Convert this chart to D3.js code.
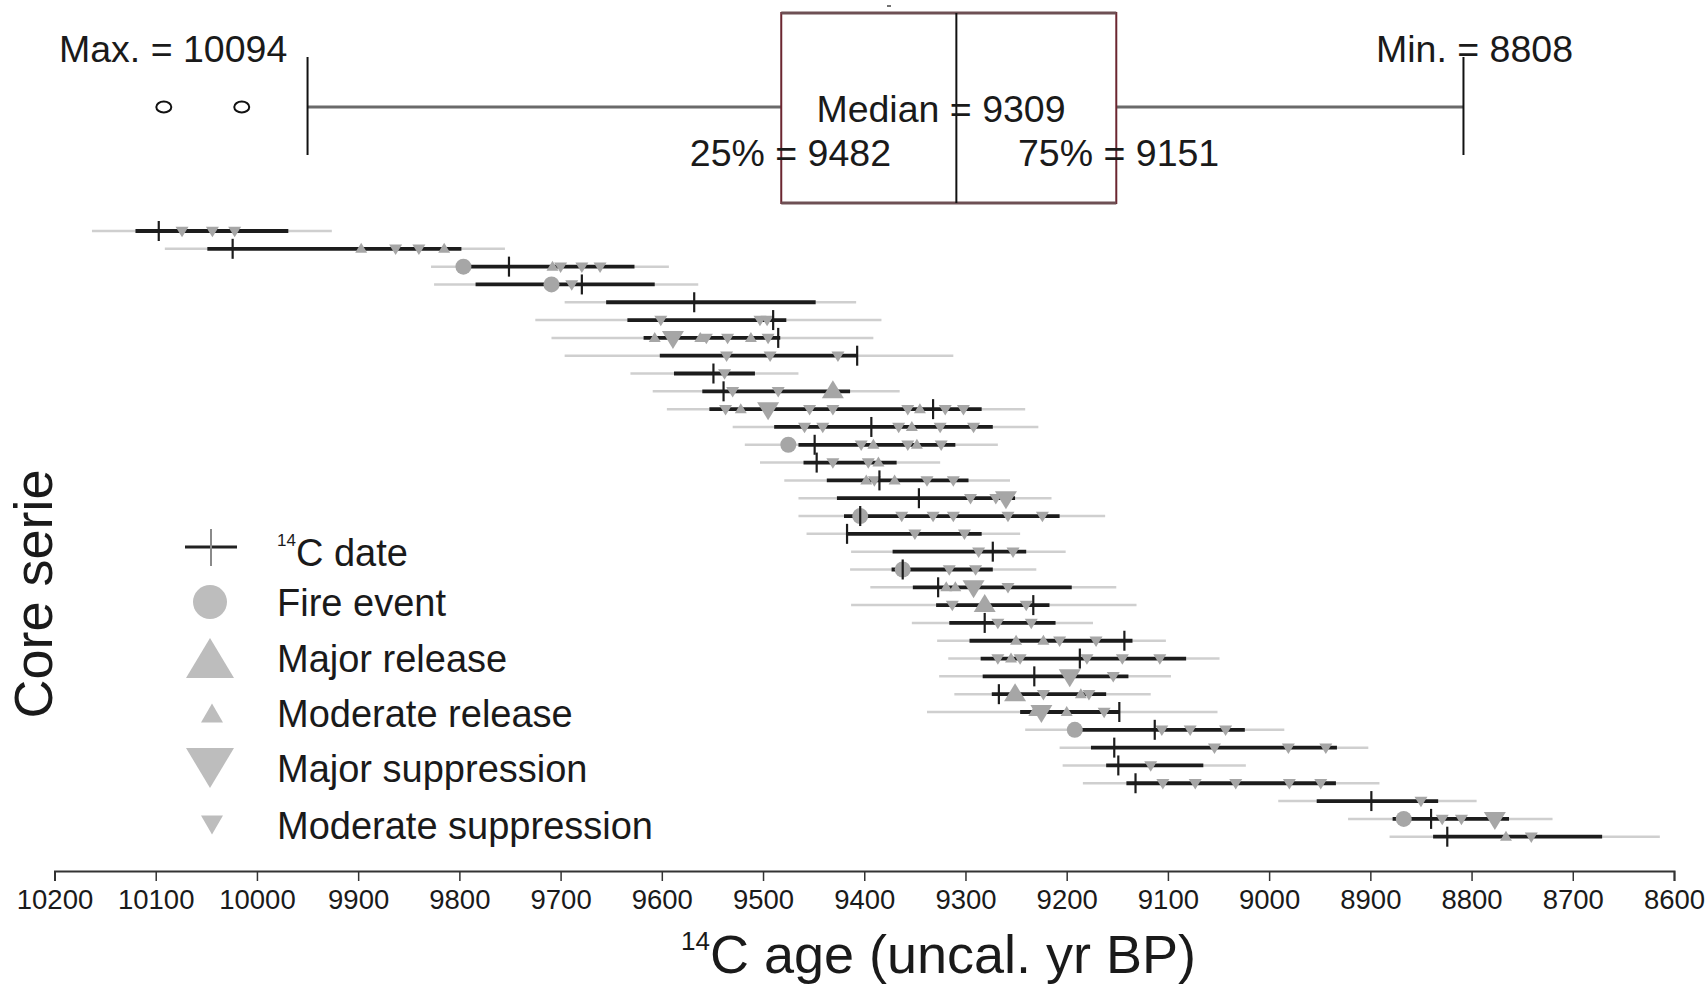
<!DOCTYPE html>
<html><head><meta charset="utf-8">
<script src="https://cdn.jsdelivr.net/npm/d3@7"></script>
<style>
body{margin:0;background:#fff}
svg{display:block}
text{font-family:"Liberation Sans", Arial, Helvetica, sans-serif; fill:#1a1a1a}
</style>
</head><body>
<svg id="c" width="1708" height="1004"></svg>
<script>
// ---------- DATA ----------
const coreSeries = [1,2,3,4,5,6,7,8,9,10,11,12,13,14,15,16,17,18,19,20,21,22,23,24,25,26,27,28,29,30,31,32,33,34,35];
const twoSigmaOld   = [10163,10091,9828,9825,9696,9725,9709,9696,9631,9609,9595,9530,9518,9503,9479,9465,9465,9457,9413,9414,9394,9413,9353,9328,9317,9326,9311,9338,9241,9207,9204,9184,8991,8922,8881];
const oneSigmaOld   = [10120,10049,9789,9784,9655,9634,9618,9602,9588,9560,9553,9489,9465,9460,9437,9427,9420,9417,9372,9373,9352,9329,9316,9296,9285,9283,9274,9246,9192,9176,9161,9141,8953,8878,8838];
const c14Date       = [10097,10024,9751,9679,9568,9490,9485,9407,9549,9539,9332,9393,9449,9447,9385,9346,9404,9417,9273,9362,9327,9233,9281,9143,9187,9232,9267,9148,9113,9153,9149,9132,8899,8840,8824];
const oneSigmaYoung = [9969,9798,9627,9607,9448,9477,9483,9407,9508,9414,9284,9273,9310,9368,9297,9251,9207,9284,9240,9273,9195,9217,9211,9135,9082,9139,9161,9148,9024,8933,9065,8934,8833,8763,8671];
const twoSigmaYoung = [9926,9755,9593,9564,9408,9383,9391,9312,9465,9365,9241,9228,9268,9325,9256,9215,9162,9246,9201,9230,9151,9131,9174,9102,9049,9097,9117,9051,8985,8902,9023,8891,8795,8720,8614];

const fireEvent = [[3,9796],[4,9709],[13,9475],[17,9404],[20,9362],[29,9192],[34,8867]];
const majorRelease = [[10,9431],[22,9281],[27,9251]];
const moderateRelease = [[2,9897],[2,9815],[3,9708],[7,9607],[7,9562],[7,9512],[11,9522],[11,9345],[12,9353],[13,9391],[13,9348],[14,9386],[15,9398],[15,9370],[21,9319],[21,9310],[24,9250],[24,9223],[25,9255],[27,9186],[28,9232],[28,9200],[35,8766]];
const majorSuppression = [[7,9589],[11,9495],[16,9260],[21,9292],[26,9197],[28,9225],[34,8777]];
const moderateSuppression = [[1,10074],[1,10044],[1,10022],[2,9863],[2,9840],[3,9700],[3,9679],[3,9661],[4,9689],[6,9601],[6,9503],[6,9496],[7,9556],[7,9535],[7,9495],[8,9536],[8,9493],[8,9426],[9,9538],[10,9530],[10,9485],[11,9537],[11,9454],[11,9431],[11,9357],[11,9320],[11,9302],[12,9459],[12,9441],[12,9366],[12,9325],[12,9292],[13,9403],[13,9357],[13,9324],[14,9431],[14,9396],[15,9390],[15,9338],[15,9312],[16,9295],[16,9270],[17,9363],[17,9332],[17,9312],[17,9258],[17,9224],[18,9350],[18,9301],[19,9287],[19,9253],[20,9316],[20,9290],[21,9258],[22,9313],[22,9240],[23,9268],[23,9235],[24,9207],[24,9171],[25,9268],[25,9246],[25,9180],[25,9145],[25,9108],[26,9154],[27,9223],[27,9178],[28,9163],[29,9106],[29,9078],[29,9043],[30,9054],[30,8981],[30,8944],[31,9117],[32,9105],[32,9073],[32,9033],[32,8980],[32,8949],[33,8850],[34,8829],[34,8810],[35,8741]];

const boxQuartiles = [9482, 9309, 9151];
const boxWhiskers = [9950, 8808];
const boxOutliers = [10092, 10015];
const boxLabels = ["Max. = 10094", "Min. = 8808", "Median = 9309", "25% = 9482", "75% = 9151"];

const tickValues = [10200,10100,10000,9900,9800,9700,9600,9500,9400,9300,9200,9100,9000,8900,8800,8700,8600];
const legendLabels = ["C date", "Fire event", "Major release", "Moderate release", "Major suppression", "Moderate suppression"];

// ---------- SCALES ----------
const svg = d3.select("#c");
const x = d3.scaleLinear().domain([10200, 8600]).range([54.5, 1674]);
const y = d3.scalePoint().domain(coreSeries).range([231, 836.7]);

const markerGray = "#a6a6a6";
function tri(w, h, up) {
  return up ? `M0,${-h/2}L${w/2},${h/2}L${-w/2},${h/2}Z`
            : `M0,${h/2}L${w/2},${-h/2}L${-w/2},${-h/2}Z`;
}

// ---------- BOX PLOT ----------
const bp = svg.append("g");
const by = 107;
bp.append("line").attr("x1", x(boxWhiskers[0])).attr("x2", x(boxQuartiles[0])).attr("y1", by).attr("y2", by)
  .attr("stroke", "#6a6a6a").attr("stroke-width", 3);
bp.append("line").attr("x1", x(boxQuartiles[2])).attr("x2", x(boxWhiskers[1])).attr("y1", by).attr("y2", by)
  .attr("stroke", "#6a6a6a").attr("stroke-width", 3);
bp.selectAll(".cap").data(boxWhiskers).join("line")
  .attr("x1", d => x(d)).attr("x2", d => x(d)).attr("y1", 57).attr("y2", 155)
  .attr("stroke", "#111").attr("stroke-width", 2);
bp.append("rect").attr("x", x(boxQuartiles[0])).attr("y", 13)
  .attr("width", x(boxQuartiles[2]) - x(boxQuartiles[0])).attr("height", 190)
  .attr("fill", "none").attr("stroke", "#6b2630").attr("stroke-width", 2);
bp.selectAll(".hz").data([13, 203]).join("line")
  .attr("x1", x(boxQuartiles[0])).attr("x2", x(boxQuartiles[2])).attr("y1", d => d).attr("y2", d => d)
  .attr("stroke", "#6e5054").attr("stroke-width", 3);
bp.append("line").attr("x1", x(boxQuartiles[1])).attr("x2", x(boxQuartiles[1])).attr("y1", 13).attr("y2", 203)
  .attr("stroke", "#111").attr("stroke-width", 2);
bp.append("line").attr("x1", 887).attr("x2", 891).attr("y1", 6).attr("y2", 6).attr("stroke", "#444").attr("stroke-width", 1.5);
bp.selectAll("ellipse").data(boxOutliers).join("ellipse")
  .attr("cx", d => x(d)).attr("cy", by).attr("rx", 7.5).attr("ry", 5.5)
  .attr("fill", "none").attr("stroke", "#111").attr("stroke-width", 2);

const bfs = 37.5;
bp.append("text").attr("x", 59).attr("y", 62).attr("font-size", bfs).text(boxLabels[0]);
bp.append("text").attr("x", 1573).attr("y", 62).attr("font-size", bfs).attr("text-anchor", "end").text(boxLabels[1]);
bp.append("text").attr("x", 941).attr("y", 122).attr("font-size", bfs).attr("text-anchor", "middle").text(boxLabels[2]);
bp.append("text").attr("x", 891).attr("y", 166).attr("font-size", bfs).attr("text-anchor", "end").text(boxLabels[3]);
bp.append("text").attr("x", 1018).attr("y", 166).attr("font-size", bfs).text(boxLabels[4]);

// ---------- RANGES ----------
const g = svg.append("g");
g.selectAll(".r2").data(coreSeries).join("line")
  .attr("x1", (d, i) => x(twoSigmaOld[i])).attr("x2", (d, i) => x(twoSigmaYoung[i]))
  .attr("y1", d => y(d)).attr("y2", d => y(d))
  .attr("stroke", "#cfcfcf").attr("stroke-width", 2.5);
g.selectAll(".r1").data(coreSeries).join("line")
  .attr("x1", (d, i) => x(oneSigmaOld[i])).attr("x2", (d, i) => x(oneSigmaYoung[i]))
  .attr("y1", d => y(d)).attr("y2", d => y(d))
  .attr("stroke", "#1c1c1c").attr("stroke-width", 3.8);

// ---------- MARKERS ----------
g.selectAll(".fire").data(fireEvent).join("circle")
  .attr("cx", d => x(d[1])).attr("cy", d => y(d[0])).attr("r", 8)
  .attr("fill", markerGray);
g.selectAll(".mjr").data(majorRelease).join("path")
  .attr("transform", d => `translate(${x(d[1])},${y(d[0]) - 2})`).attr("d", tri(22, 18, true))
  .attr("fill", markerGray);
g.selectAll(".mdr").data(moderateRelease).join("path")
  .attr("transform", d => `translate(${x(d[1])},${y(d[0]) - 1})`).attr("d", tri(12, 10, true))
  .attr("fill", markerGray);
g.selectAll(".mjs").data(majorSuppression).join("path")
  .attr("transform", d => `translate(${x(d[1])},${y(d[0]) + 2})`).attr("d", tri(22, 18, false))
  .attr("fill", markerGray);
g.selectAll(".mds").data(moderateSuppression).join("path")
  .attr("transform", d => `translate(${x(d[1])},${y(d[0]) + 1})`).attr("d", tri(13, 10.5, false))
  .attr("fill", markerGray);

// ---------- 14C DATES ----------
g.selectAll(".date").data(coreSeries).join("line")
  .attr("x1", (d, i) => x(c14Date[i])).attr("x2", (d, i) => x(c14Date[i]))
  .attr("y1", d => y(d) - 10).attr("y2", d => y(d) + 10)
  .attr("stroke", "#1c1c1c").attr("stroke-width", 2.2);

// ---------- AXIS ----------
const ax = svg.append("g").attr("transform", "translate(0,871)")
  .call(d3.axisBottom(x).tickValues(tickValues).tickSize(10).tickPadding(8).tickFormat(d3.format("d")));
ax.select(".domain").attr("stroke", "#333").attr("stroke-width", 2);
ax.selectAll(".tick line").attr("stroke", "#333").attr("stroke-width", 1.5);
ax.selectAll(".tick text").attr("font-size", 27.5).attr("font-family", "'Liberation Sans', Arial, sans-serif").attr("fill", "#1a1a1a");

// title
const t = svg.append("text").attr("x", 681).attr("y", 973).attr("font-size", 54);
t.append("tspan").attr("font-size", 26).attr("dy", -23).text("14");
t.append("tspan").attr("dy", 23).text("C age (uncal. yr BP)");

svg.append("text").attr("transform", "translate(52,594) rotate(-90)")
  .attr("text-anchor", "middle").attr("font-size", 54).text("Core serie");

// ---------- LEGEND ----------
const lg = svg.append("g");
const legGray = "#bdbdbd";
const ly = [547, 602, 658, 713, 768, 825];
const lx = 210;
lg.append("line").attr("x1", 185).attr("x2", 237).attr("y1", ly[0]).attr("y2", ly[0]).attr("stroke", "#222").attr("stroke-width", 3);
lg.append("line").attr("x1", lx + 1).attr("x2", lx + 1).attr("y1", ly[0] - 18).attr("y2", ly[0] + 19).attr("stroke", "#8a8a8a").attr("stroke-width", 2);
lg.append("circle").attr("cx", lx).attr("cy", ly[1]).attr("r", 17).attr("fill", legGray);
lg.append("path").attr("transform", `translate(${lx},${ly[2]})`).attr("d", tri(48, 40, true)).attr("fill", legGray);
lg.append("path").attr("transform", `translate(${lx + 2},${ly[3]})`).attr("d", tri(22, 19, true)).attr("fill", legGray);
lg.append("path").attr("transform", `translate(${lx},${ly[4]})`).attr("d", tri(48, 40, false)).attr("fill", legGray);
lg.append("path").attr("transform", `translate(${lx + 2},${ly[5]})`).attr("d", tri(22, 19, false)).attr("fill", legGray);

const lfs = 38;
const t0 = lg.append("text").attr("x", 277).attr("y", ly[0] + 19).attr("font-size", lfs);
t0.append("tspan").attr("font-size", 17).attr("dy", -20).text("14");
t0.append("tspan").attr("dy", 20).text(legendLabels[0]);
legendLabels.slice(1).forEach((s, i) => {
  lg.append("text").attr("x", 277).attr("y", ly[i + 1] + 14).attr("font-size", lfs).text(s);
});
</script>
</body></html>
